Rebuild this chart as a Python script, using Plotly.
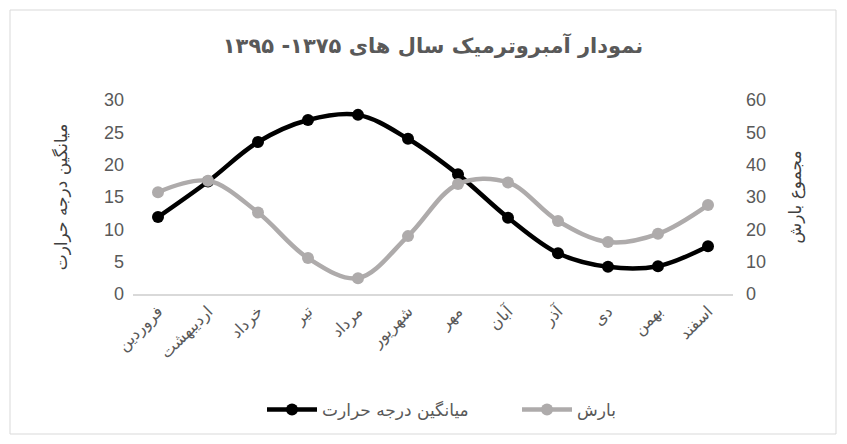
import plotly.graph_objects as go

months = ["فروردین", "اردیبهشت", "خرداد", "تیر", "مرداد", "شهریور",
          "مهر", "آبان", "آذر", "دی", "بهمن", "اسفند"]
temperature = [11.9, 17.4, 23.5, 26.9, 27.7, 24.0, 18.5, 11.8, 6.3, 4.2, 4.3, 7.4]
rainfall = [31.5, 35.0, 25.2, 11.1, 4.9, 17.9, 34.0, 34.5, 22.6, 16.1, 18.6, 27.5]

temp_name = "میانگین درجه حرارت"
rain_name = "بارش"
title_text = "نمودار آمبروترمیک سال های ۱۳۷۵- ۱۳۹۵"
left_title = "میانگین درجه حرارت"
right_title = "مجموع بارش"

OFF = 8  # page body margin
W, H = 847 - OFF, 444 - OFF
L, T = 133 - OFF, 100 - OFF
PW, PH = 600, 194
R = W - L - PW
B = H - T - PH

fig = go.Figure()
fig.add_trace(go.Scatter(
    x=months, y=temperature, name=temp_name, mode="lines+markers",
    line=dict(color="#000000", width=4.5, shape="spline", smoothing=1.0),
    marker=dict(color="#000000", size=12), yaxis="y"))
fig.add_trace(go.Scatter(
    x=months, y=rainfall, name=rain_name, mode="lines+markers",
    line=dict(color="#AEABAB", width=4.5, shape="spline", smoothing=1.0),
    marker=dict(color="#AEABAB", size=12), yaxis="y2"))

def sx(px):
    return (px - OFF - L) / PW

def sy(py):
    return (T + PH - (py - OFF)) / PH

fig.update_layout(
    width=W, height=H,
    margin=dict(l=L, r=R, t=T, b=B, autoexpand=False),
    paper_bgcolor="white", plot_bgcolor="white",
    font=dict(family="DejaVu Sans, Liberation Sans", color="#595959"),
    title=dict(text="<b>" + title_text + "</b>", x=0.5, xref="paper",
               y=1 - (46 - OFF) / H, yanchor="middle", xanchor="center",
               font=dict(size=21, color="#595959", family="DejaVu Sans")),
    showlegend=True,
    legend=dict(orientation="h", x=sx(262), xanchor="left", y=sy(410), yanchor="middle",
                font=dict(size=17, color="#595959"), itemwidth=50,
                traceorder="normal", entrywidth=190, entrywidthmode="pixels"),
    xaxis=dict(range=[-0.5, 11.5], automargin=False,
               showgrid=False, showline=True, linecolor="#D9D9D9", linewidth=1.5,
               tickangle=-45, ticks="", tickfont=dict(size=16, color="#595959"),
               zeroline=False),
    yaxis=dict(range=[0, 30], dtick=5, showgrid=False, showline=False, zeroline=False,
               automargin=False,
               tickfont=dict(size=18, color="#595959", family="Liberation Sans"),
               ticks="", ticklabelstandoff=8,
               title=dict(text=left_title, standoff=32,
                          font=dict(size=17, color="#404040"))),
    yaxis2=dict(range=[0, 60], dtick=10, overlaying="y", side="right",
                automargin=False,
                showgrid=False, showline=False, zeroline=False,
                tickfont=dict(size=18, color="#595959", family="Liberation Sans"),
                ticks="", ticklabelstandoff=12,
                title=dict(text=right_title, standoff=24,
                           font=dict(size=17, color="#404040"))),
    shapes=[dict(type="rect", xref="paper", yref="paper",
                 x0=sx(10), x1=sx(836), y0=sy(434), y1=sy(10),
                 line=dict(color="#D9D9D9", width=1), layer="below")],
)

fig.write_html("out.html")
